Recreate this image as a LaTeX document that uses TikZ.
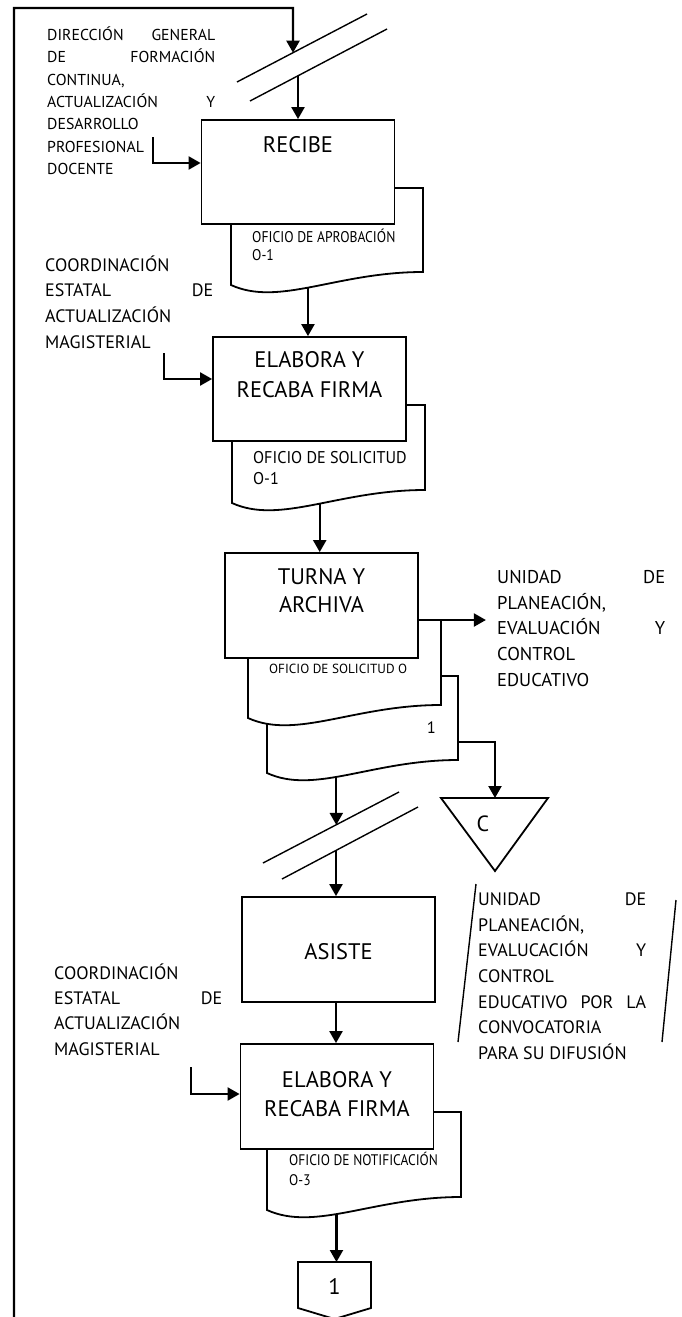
\documentclass[tikz,border=0pt]{standalone}
\usepackage{fontspec}
\setmainfont{PT Sans}
\newfontfamily\narrowdoc[FakeStretch=0.88]{PT Sans}
\newfontfamily\semidoc[FakeStretch=0.95]{PT Sans}
\usetikzlibrary{arrows.meta}

% paragraph of given width, font size and line spacing; baseline = first line
\newcommand\para[4]{\parbox[t]{#1}{\raggedright\fontsize{#2}{#3}\selectfont #4}}
% centred label inside a process box: box height, width, first baseline, spacing, text
\newcommand\inbox[5]{\parbox[c][#1][t]{#2}{\centering\fontsize{22.5}{#4}\selectfont\rule{0pt}{#3}#5}}
% document symbol with wavy bottom: left x, top y, right x, bottom-left y, pos, name
\newcommand\docshape[6]{%
  \draw[doc] (#3,#2) -- (#1,#2) -- (#1,#4)
    .. controls ({#1+0.25*(#3-#1)},{#4+22}) and ({#1+0.55*(#3-#1)},{#4-13}) .. ({#3},{#4-13})
    coordinate[pos=#5] (#6) -- cycle;}

\begin{document}
\begin{tikzpicture}[x=1pt, y=-1pt,
  conn/.style={line width=2.2pt, -{Triangle[width=13pt,length=12pt]}},
  slash/.style={line width=1.4pt},
  doc/.style={draw, fill=white, line width=1.8pt},
  proc/.style={draw, fill=white, line width=1.8pt, inner sep=0pt, minimum width=193pt},
  txt/.style={inner sep=0pt, anchor=base west},
  sym/.style={draw, line width=1.8pt, line join=miter}]
\useasboundingbox (0,0) rectangle (681,1317);

% parallel break lines
\draw[slash] (237,82) -- (367,14) coordinate[pos=0.4308] (s1a);
\draw[slash] (250,101) -- (387,29) coordinate[pos=0.3504] (s1b);
\draw[slash] (263,863) -- (399,792) coordinate[pos=0.5368] (s2a);
\draw[slash] (282,879) -- (418,807) coordinate[pos=0.397] (s2b);

% outer return line
\draw[conn] (14,1320) -- (14,8) -- (293,8) -- (s1a);

% documents
\docshape{231}{188}{423}{285}{0.475}{d1}
\docshape{232}{405}{425}{503}{0.53}{d2}
\docshape{267}{676}{458}{773}{0.435}{d3}
\docshape{248}{620}{441}{718}{0.5}{d3f}
\docshape{267}{1112}{461}{1210}{0.43}{d5}

% process boxes
\node[proc, minimum height=104pt] (b1) at (298,172)
  {\inbox{104pt}{193pt}{32.9pt}{30pt}{RECIBE}};
\node[proc, minimum height=104pt] (b2) at (309.5,389)
  {\inbox{104pt}{193pt}{30.9pt}{30pt}{ELABORA Y\\RECABA FIRMA}};
\node[proc, minimum height=105pt] (b3) at (321.5,605.5)
  {\inbox{105pt}{193pt}{31.9pt}{28pt}{TURNA Y\\ARCHIVA}};
\node[proc, minimum height=105pt] (b4) at (338.5,949.5)
  {\inbox{105pt}{193pt}{62.9pt}{29pt}{ASISTE}};
\node[proc, minimum height=105pt] (b5) at (337,1096.5)
  {\inbox{105pt}{193pt}{43.9pt}{29pt}{ELABORA Y\\RECABA FIRMA}};

% document labels
\node[txt] (l1) at (252,242.4) {\para{200pt}{15.5}{18}{\narrowdoc OFICIO DE APROBACIÓN\\O-1}};
\node[txt] (l2) at (253,463) {\para{200pt}{17}{21}{\semidoc OFICIO DE SOLICITUD\\O-1}};
\node[txt] (l3) at (269,673.5) {\para{200pt}{13.2}{18}{OFICIO DE SOLICITUD O}};
\node[txt] (l3b) at (426.7,733.3) {\para{30pt}{16.5}{18}{1}};
\node[txt] (l5) at (289,1165.3) {\para{200pt}{15.3}{20}{\narrowdoc OFICIO DE NOTIFICACIÓN\\O-3}};

% participants
\node[txt] (t1) at (47,40.6) {\para{168pt}{15.8}{22.3}{DIRECCIÓN\hfill GENERAL\\DE\hfill FORMACIÓN\\CONTINUA,\\ACTUALIZACIÓN\hfill Y\\DESARROLLO\\PROFESIONAL\\DOCENTE}};
\node[txt] (t2) at (45,271.3) {\para{168pt}{18}{25.6}{COORDINACIÓN\\ESTATAL\hfill DE\\ACTUALIZACIÓN\\MAGISTERIAL}};
\node[txt] (t3) at (497,583.5) {\para{168pt}{18.5}{25.7}{UNIDAD\hfill DE\\PLANEACIÓN,\\EVALUACIÓN\hfill Y\\CONTROL\\EDUCATIVO}};
\node[txt] (t4) at (54,979.3) {\para{168pt}{18}{25.3}{COORDINACIÓN\\ESTATAL\hfill DE\\ACTUALIZACIÓN\\MAGISTERIAL}};
\node[txt] (t5) at (478,905.3) {\para{168pt}{18}{25.7}{UNIDAD\hfill DE\\PLANEACIÓN,\\EVALUCACIÓN\hfill Y\\CONTROL\\EDUCATIVO\hfill POR\hfill LA\\CONVOCATORIA\\PARA SU DIFUSIÓN}};
\draw[slash] (476,884) -- (458,1042);
\draw[slash] (676,900) -- (662,1042);

% archive (triangle) and off-page connector
\draw[sym] (441,798) -- (548,798) -- (495,871) -- cycle;
\coordinate (tritop) at (495,798);
\node[inner sep=0pt, anchor=base, font=\fontsize{22}{24}\selectfont] (arch) at (483,831) {C};
\draw[sym] (298,1262) -- (371,1262) -- (371,1308) -- (334.5,1319) -- (298,1308) -- cycle;
\coordinate (pgtop) at (334.5,1262);
\node[inner sep=0pt, anchor=base, font=\fontsize{22.5}{24}\selectfont] (pg) at (334.5,1294) {1};

% connectors
\coordinate (a1) at (153,137);
\coordinate (a2) at (164,353);
\coordinate (a4) at (191,1067);
\coordinate (mdout) at (458,742);
\draw[conn] (s1b) -- (s1b |- b1.north);
\draw[conn] (a1) |- ([yshift=9pt]b1.west);
\draw[conn] (d1) -- (d1 |- b2.north);
\draw[conn] (a2) |- ([yshift=10pt]b2.west);
\draw[conn] (d2) -- (d2 |- b3.north);
\draw[conn] ([yshift=-14.5pt]b3.east) -- ++(67,0);
\draw[conn] (mdout) -| (tritop);
\draw[conn] (d3) -- (d3 |- s2a);
\draw[conn] (s2b) -- (s2b |- b4.north);
\draw[conn] (s2b |- b4.south) -- (s2b |- b5.north);
\draw[conn] (a4) |- ([yshift=2.5pt]b5.west);
\draw[conn] (d5) -- (d5 |- pgtop);
\end{tikzpicture}
\end{document}
